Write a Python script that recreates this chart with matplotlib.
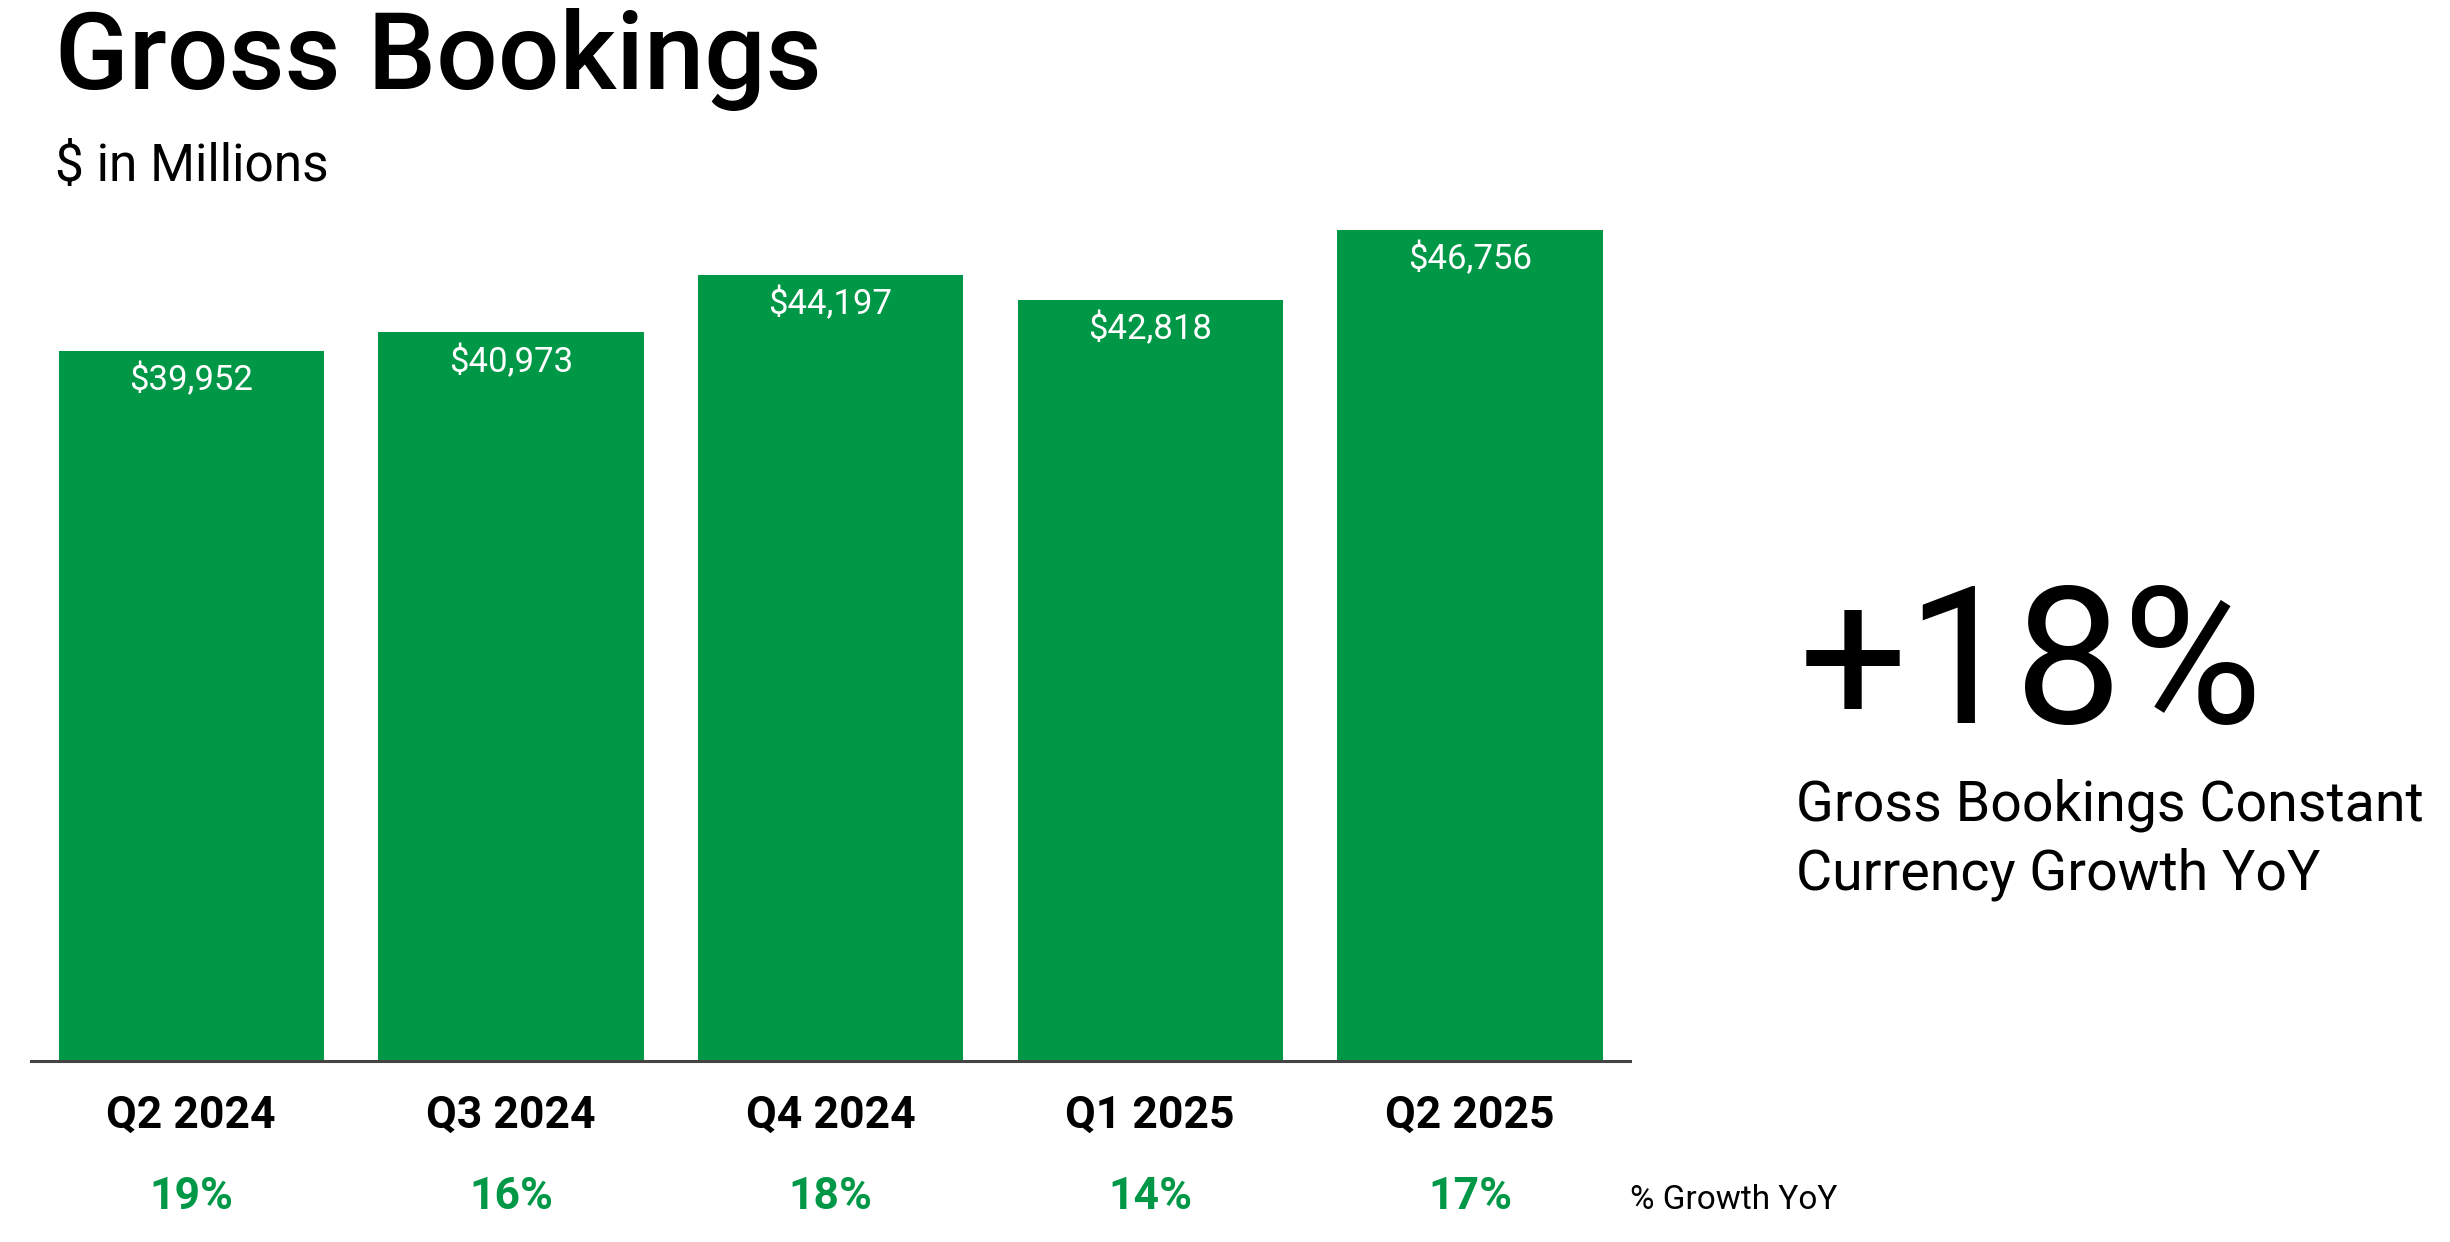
import matplotlib
matplotlib.use("Agg")
import matplotlib.pyplot as plt
import matplotlib.transforms as mtransforms

plt.rcParams['font.family'] = ['Roboto', 'DejaVu Sans']

quarters = ["Q2 2024", "Q3 2024", "Q4 2024", "Q1 2025", "Q2 2025"]
bookings = [39952, 40973, 44197, 42818, 46756]
growth = ["19%", "16%", "18%", "14%", "17%"]
headline = "+18%"

green = "#009846"

fig = plt.figure(figsize=(24.5, 12.42), dpi=100)
ax = fig.add_axes([0.0128, 0.1461, 0.6524, 0.7154])

x = range(len(quarters))
bars = ax.bar(x, bookings, width=0.83, color=green)

for b, v in zip(bars, bookings):
    ax.annotate(f"${v:,}", (b.get_x() + b.get_width() / 2, v),
                xytext=(0, -21), textcoords="offset points",
                ha="center", va="center", color="white", fontsize=25)

ax.set_xlim(-0.5, 4.5)
ax.set_ylim(0, 50000)
ax.set_xticks(list(x))
ax.set_xticklabels(quarters, fontsize=32, fontweight="bold")
ax.tick_params(axis="x", length=0, pad=25)
ax.set_yticks([])
for s in ["top", "right", "left"]:
    ax.spines[s].set_visible(False)
ax.spines["bottom"].set_color("#444444")
ax.spines["bottom"].set_linewidth(2.2)

trans = mtransforms.blended_transform_factory(ax.transData, fig.transFigure)
for i, g in enumerate(growth):
    ax.text(i, 0.0365, g, transform=trans, ha="center", va="center",
            fontsize=32, fontweight="bold", color=green)
fig.text(0.6652, 0.034, "% Growth YoY", ha="left", va="center", fontsize=24)

fig.text(0.0225, 0.928, "Gross Bookings", ha="left", va="baseline",
         fontsize=78, fontweight="medium")
fig.text(0.0225, 0.854, "$ in Millions", ha="left", va="baseline", fontsize=37)

fig.text(0.734, 0.418, headline, ha="left", va="baseline", fontsize=138)
fig.text(0.733, 0.339, "Gross Bookings Constant", ha="left", va="baseline", fontsize=40)
fig.text(0.733, 0.284, "Currency Growth YoY", ha="left", va="baseline", fontsize=40)

fig.savefig("out.png", dpi=100)
